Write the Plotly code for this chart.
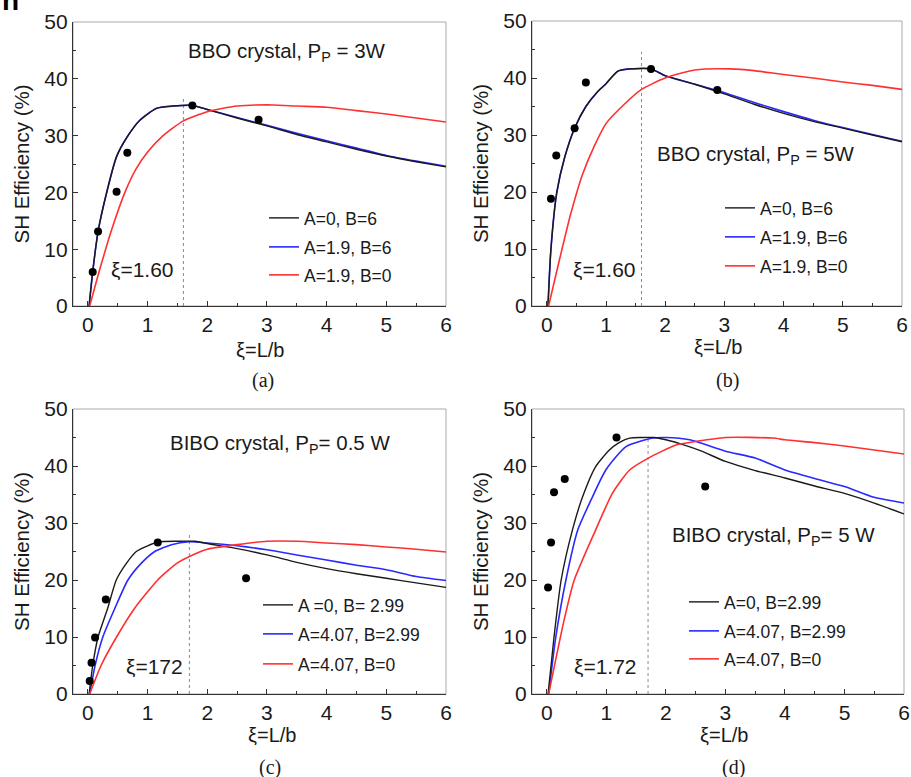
import plotly.graph_objects as go

# ---------------- data ----------------
# Panel (a) BBO, Pp = 3W
a_black_x = [0.02, 0.08, 0.17, 0.31, 0.48, 0.66, 0.87, 1.15, 1.43, 1.75, 2.0, 2.5, 3.0, 3.5, 4.0, 4.5, 5.0, 5.5, 6.0]
a_black_y = [0, 6.0, 13.1, 19.8, 26.3, 29.8, 32.7, 34.8, 35.2, 35.3, 34.6, 33.1, 31.7, 30.2, 28.9, 27.6, 26.4, 25.4, 24.5]
a_blue_x = a_black_x
a_blue_y = [0, 6.0, 13.1, 19.8, 26.3, 29.8, 32.7, 34.8, 35.2, 35.3, 34.6, 33.2, 31.8, 30.4, 29.1, 27.8, 26.5, 25.5, 24.6]
a_red_x = [0.03, 0.2, 0.4, 0.62, 0.8, 1.0, 1.26, 1.6, 2.0, 2.5, 3.1, 3.5, 4.0, 4.5, 5.0, 5.5, 6.0]
a_red_y = [0, 6.5, 13.5, 20, 24, 27.1, 30, 32.6, 34.2, 35.2, 35.4, 35.2, 35.0, 34.4, 33.8, 33.1, 32.4]
a_dot_x = [0.08, 0.17, 0.48, 0.66, 1.75, 2.86]
a_dot_y = [6.0, 13.1, 20.1, 27.0, 35.3, 32.8]
a_vline_x = [1.6, 1.6]
a_vline_y = [0, 36.8]

# Panel (b) BBO, Pp = 5W
b_black_x = [0.02, 0.07, 0.17, 0.3, 0.47, 0.66, 0.85, 1.0, 1.2, 1.4, 1.76, 2.0, 2.5, 3.0, 3.5, 4.0, 4.5, 5.0, 5.5, 6.0]
b_black_y = [0, 10, 20, 26, 31.2, 35, 37.5, 39, 41.2, 41.6, 41.6, 40.4, 38.9, 37.2, 35.4, 33.8, 32.4, 31.2, 30.0, 28.8]
b_blue_x = b_black_x
b_blue_y = [0, 10, 20, 26, 31.2, 35, 37.5, 39, 41.2, 41.6, 41.6, 40.4, 38.9, 37.4, 35.7, 34.1, 32.6, 31.3, 30.1, 28.9]
b_red_x = [0.03, 0.2, 0.4, 0.6, 0.8, 1.0, 1.3, 1.6, 2.0, 2.5, 3.1, 3.5, 4.0, 4.5, 5.0, 5.5, 6.0]
b_red_y = [0, 7.5, 16, 23, 28, 32, 35.3, 38, 40, 41.4, 41.6, 41.3, 40.6, 40.0, 39.3, 38.7, 38.0]
b_dot_x = [0.07, 0.16, 0.47, 0.66, 1.76, 2.88]
b_dot_y = [18.8, 26.4, 31.2, 39.2, 41.6, 37.9]
b_vline_x = [1.6, 1.6]
b_vline_y = [0, 44.6]

# Panel (c) BIBO, Pp = 0.5 W
c_black_x = [0.02, 0.08, 0.17, 0.33, 0.475, 0.65, 0.81, 1.0, 1.2, 1.5, 1.8, 2.0, 2.5, 3.0, 3.5, 4.0, 4.5, 5.0, 5.5, 6.0]
c_black_y = [0, 5, 10, 15, 20, 23, 25, 26, 26.7, 26.8, 26.8, 26.4, 25.5, 24.4, 23.1, 22.0, 21.1, 20.3, 19.5, 18.7]
c_blue_x = [0.03, 0.12, 0.25, 0.45, 0.67, 0.9, 1.12, 1.4, 1.7, 2.0, 2.5, 3.0, 3.5, 4.0, 4.5, 5.0, 5.5, 6.0]
c_blue_y = [0, 5, 10, 15, 20, 23, 25, 26.2, 26.7, 26.5, 26.0, 25.3, 24.4, 23.5, 22.6, 21.8, 20.6, 19.9]
c_red_x = [0.03, 0.22, 0.48, 0.78, 1.17, 1.5, 1.82, 2.0, 2.5, 3.0, 3.5, 4.0, 4.5, 5.0, 5.5, 6.0]
c_red_y = [0, 5, 10, 15, 20, 23, 24.7, 25.4, 26.2, 26.8, 26.8, 26.5, 26.2, 25.8, 25.4, 24.9]
c_dot_x = [0.03, 0.06, 0.12, 0.30, 1.17, 2.65]
c_dot_y = [2.3, 5.5, 9.9, 16.6, 26.6, 20.3]
c_vline_x = [1.7, 1.7]
c_vline_y = [0, 28.1]

# Panel (d) BIBO, Pp = 5 W
d_black_x = [0.02, 0.12, 0.24, 0.43, 0.6, 0.82, 1.05, 1.2, 1.39, 1.6, 1.8, 2.0, 2.3, 2.6, 3.0, 3.5, 4.0, 4.5, 5.0, 5.5, 6.0]
d_black_y = [0, 10, 20, 28.8, 34.6, 39.9, 42.8, 44, 44.9, 45, 45, 44.6, 43.7, 42.6, 40.8, 39.2, 37.9, 36.5, 35.2, 33.5, 31.6]
d_blue_x = [0.03, 0.15, 0.32, 0.52, 0.74, 0.99, 1.33, 1.78, 2.0, 2.4, 3.0, 3.5, 4.0, 4.5, 5.0, 5.5, 6.0]
d_blue_y = [0, 10, 20, 28.8, 34, 39.3, 43.4, 44.9, 45, 44.6, 42.6, 41.4, 39.3, 37.8, 36.4, 34.5, 33.5]
d_red_x = [0.03, 0.29, 0.46, 0.82, 1.1, 1.39, 1.69, 2.17, 2.5, 3.0, 3.8, 4.0, 4.5, 5.0, 5.5, 6.0]
d_red_y = [0, 13, 20, 28.8, 35.2, 39.3, 41.3, 43.7, 44.3, 45, 44.9, 44.6, 44.1, 43.5, 42.8, 42.1]
d_dot_x = [0.02, 0.07, 0.12, 0.30, 1.17, 2.66]
d_dot_y = [18.7, 26.6, 35.4, 37.7, 45.0, 36.4]
d_vline_x = [1.7, 1.7]
d_vline_y = [0, 44.9]

legend_a = ["A=0, B=6", "A=1.9, B=6", "A=1.9, B=0"]
legend_c = ["A =0, B= 2.99", "A=4.07, B=2.99", "A=4.07, B=0"]
legend_d = ["A=0, B=2.99", "A=4.07, B=2.99", "A=4.07, B=0"]
titles = ["BBO crystal, P<sub>P</sub> = 3W", "BBO crystal, P<sub>P</sub> = 5W",
          "BIBO crystal, P<sub>P</sub>= 0.5 W", "BIBO crystal, P<sub>P</sub>= 5 W"]
xi_labels = ["ξ=1.60", "ξ=1.60", "ξ=172", "ξ=1.72"]
captions = ["(a)", "(b)", "(c)", "(d)"]
x_ticks = [0, 1, 2, 3, 4, 5, 6]
y_ticks = [0, 10, 20, 30, 40, 50]

# ---------------- layout geometry ----------------
W, H = 911, 777
def px(x0, x1):
    return [x0 / W, x1 / W]
def py(top, bottom):
    return [1 - bottom / H, 1 - top / H]

panels = [
    dict(xd=px(73, 446), yd=py(22, 306)),
    dict(xd=px(532, 902), yd=py(21, 306)),
    dict(xd=px(73, 446), yd=py(409, 694)),
    dict(xd=px(532, 904), yd=py(409, 694)),
]

FONT = "Liberation Sans, Arial, sans-serif"
SERIF = "Liberation Serif, Times New Roman, serif"
BLACK = "#1a1a1a"
BLUE = "#2a2aff"
RED = "#ff3030"

data_sets = [
    (a_black_x, a_black_y, a_blue_x, a_blue_y, a_red_x, a_red_y, a_dot_x, a_dot_y, a_vline_x, a_vline_y, legend_a),
    (b_black_x, b_black_y, b_blue_x, b_blue_y, b_red_x, b_red_y, b_dot_x, b_dot_y, b_vline_x, b_vline_y, legend_a),
    (c_black_x, c_black_y, c_blue_x, c_blue_y, c_red_x, c_red_y, c_dot_x, c_dot_y, c_vline_x, c_vline_y, legend_c),
    (d_black_x, d_black_y, d_blue_x, d_blue_y, d_red_x, d_red_y, d_dot_x, d_dot_y, d_vline_x, d_vline_y, legend_d),
]

# text positions (data coords)
title_pos = [(3.33, 44.7), (3.54, 26.5), (3.22, 43.8), (3.8, 27.7)]
xi_pos = [(0.92, 6.4), (0.98, 6.4), (1.12, 4.9), (0.99, 4.9)]
# legend: (text start px, [row centre px])
legend_geo = [(310, [218, 247, 275]), (766, [208, 237, 266]),
              (304, [605, 634, 664]), (730, [602, 631, 659])]
caption_px = [(263, 380), (727, 380), (270, 767), (733, 767)]
xtitle_px = [(260, 350), (718, 347), (272, 735), (724, 735)]

fig = go.Figure()
layout = dict(width=W, height=H, margin=dict(l=0, r=0, t=0, b=0, autoexpand=False),
              paper_bgcolor="white", plot_bgcolor="white",
              font=dict(family=FONT, color=BLACK), showlegend=True,
              # cropped glyph at the very top-left corner of the figure
              title=dict(text="<b>n</b>", x=2 / W, xref="container", xanchor="left",
                         y=1, yref="container", yanchor="middle",
                         font=dict(size=28, family=FONT, color="black"),
                         pad=dict(t=0, l=0, r=0, b=0)))
annotations = []
shapes = []
legend_idx = 0

def next_legend():
    global legend_idx
    legend_idx += 1
    return "legend" if legend_idx == 1 else "legend" + str(legend_idx)

for i, (p, ds) in enumerate(zip(panels, data_sets)):
    n = "" if i == 0 else str(i + 1)
    xa, ya = "x" + n, "y" + n
    bx, by, ux, uy, rx, ry, dx, dy, vx, vy, labels = ds
    tx0, rows = legend_geo[i]
    legs = [next_legend() for _ in range(3)]
    for k, lg in enumerate(legs):
        layout[lg] = dict(x=(tx0 - 46) / W, y=1 - rows[k] / H, xanchor="left", yanchor="middle",
                          bgcolor="rgba(0,0,0,0)", borderwidth=0,
                          font=dict(size=17.5, family=FONT, color=BLACK))
    # dotted vertical line
    fig.add_trace(go.Scatter(x=vx, y=vy, mode="lines", xaxis=xa, yaxis=ya,
                             line=dict(color="#8a8a8a", width=1, dash="dot"),
                             showlegend=False, hoverinfo="skip"))
    fig.add_trace(go.Scatter(x=ux, y=uy, mode="lines", name=labels[1], xaxis=xa, yaxis=ya,
                             line=dict(color=BLUE, width=1.6, shape="spline", smoothing=0.6),
                             legend=legs[1]))
    fig.add_trace(go.Scatter(x=bx, y=by, mode="lines", name=labels[0], xaxis=xa, yaxis=ya,
                             line=dict(color=BLACK, width=1.4, shape="spline", smoothing=0.6),
                             legend=legs[0]))
    fig.add_trace(go.Scatter(x=rx, y=ry, mode="lines", name=labels[2], xaxis=xa, yaxis=ya,
                             line=dict(color=RED, width=1.6, shape="spline", smoothing=0.6),
                             legend=legs[2]))
    fig.add_trace(go.Scatter(x=dx, y=dy, mode="markers", xaxis=xa, yaxis=ya,
                             marker=dict(color="black", size=8), showlegend=False))

    axis_common = dict(showgrid=False, zeroline=False, showline=True, linecolor="#333333",
                       linewidth=1.2, ticks="inside", ticklen=5, tickcolor="#333333",
                       tickfont=dict(family=FONT, size=21, color=BLACK), mirror=False,
                       automargin=False)
    layout["xaxis" + n] = dict(axis_common, domain=p["xd"], range=[-0.25, 6], anchor=ya,
                               tickvals=x_ticks,
                               minor=dict(ticks="inside", dtick=0.5, ticklen=3, tickcolor="#333333"))
    layout["yaxis" + n] = dict(axis_common, domain=p["yd"], range=[0, 50], anchor=xa,
                               tickvals=y_ticks,
                               minor=dict(ticks="inside", dtick=5, ticklen=3, tickcolor="#333333"),
                               title=dict(text="SH Efficiency (%)", font=dict(size=20.5, family=FONT),
                                          standoff=9))
    # light frame for top/right
    shapes.append(dict(type="rect", xref=xa + " domain", yref=ya + " domain",
                       x0=0, x1=1, y0=0, y1=1, line=dict(color="#aaaaaa", width=1), layer="below"))
    # texts
    tx, ty = title_pos[i]
    annotations.append(dict(x=tx, y=ty, xref=xa, yref=ya, text=titles[i], showarrow=False,
                            xanchor="center", yanchor="middle",
                            font=dict(size=20.5, family=FONT, color=BLACK)))
    ex, ey = xi_pos[i]
    annotations.append(dict(x=ex, y=ey, xref=xa, yref=ya, text=xi_labels[i], showarrow=False,
                            xanchor="center", yanchor="middle",
                            font=dict(size=21, family=FONT, color=BLACK)))
    cx, cy = caption_px[i]
    annotations.append(dict(x=cx / W, y=1 - cy / H, xref="paper", yref="paper", text=captions[i],
                            showarrow=False, xanchor="center", yanchor="middle",
                            font=dict(size=20, family=SERIF, color=BLACK)))
    qx, qy = xtitle_px[i]
    annotations.append(dict(x=qx / W, y=1 - qy / H, xref="paper", yref="paper", text="ξ=L/b",
                            showarrow=False, xanchor="center", yanchor="middle",
                            font=dict(size=20, family=FONT, color=BLACK)))

layout["annotations"] = annotations
layout["shapes"] = shapes
fig.update_layout(**layout)
fig.write_html("out.html", config={"displayModeBar": False},
               post_script="document.body.style.margin='0';")
